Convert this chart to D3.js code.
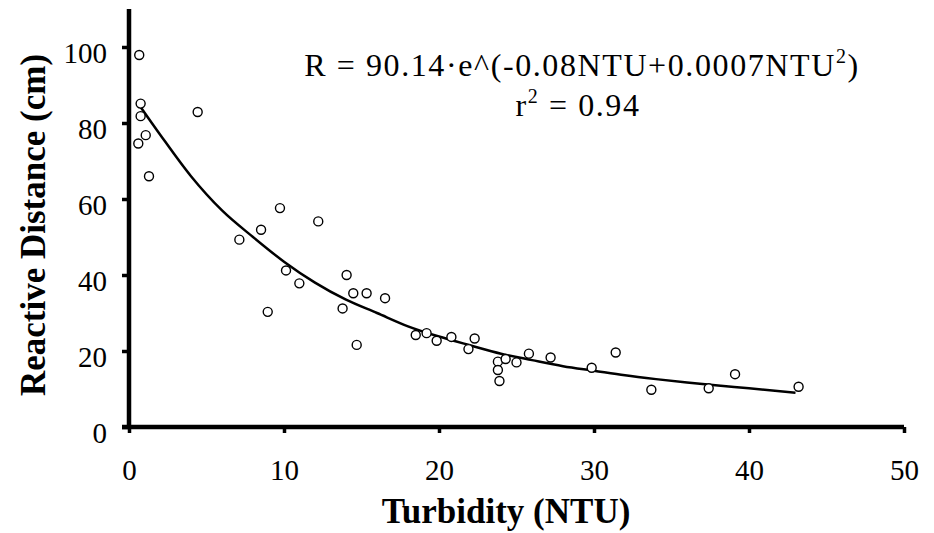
<!DOCTYPE html>
<html>
<head>
<meta charset="utf-8">
<script src="https://cdn.jsdelivr.net/npm/d3@7"></script>
<style>
  body { margin: 0; background: #fff; }
  svg text { font-family: "Liberation Serif", Tinos, "Times New Roman", Times, "DejaVu Serif", serif !important; }
</style>
</head>
<body>
<div id="chart"></div>
<script>
// observed points (turbidity NTU, reactive distance cm)
var turbidity = [0.66, 0.75, 0.75, 1.08, 0.6, 1.29, 4.43, 7.12, 8.52, 8.95, 9.74, 10.13, 10.99, 12.21,
  13.78, 14.04, 14.47, 14.69, 15.33, 16.52, 18.5, 19.2, 19.85, 20.8, 21.9, 22.3, 23.8, 24.3, 23.8,
  23.9, 25.0, 25.8, 27.2, 29.85, 31.4, 33.7, 37.4, 39.1, 43.2];
var distance = [97.9, 85.1, 81.8, 76.8, 74.6, 66.0, 82.9, 49.3, 51.9, 30.3, 57.6, 41.2, 37.8, 54.1,
  31.2, 40.0, 35.2, 21.6, 35.2, 33.9, 24.2, 24.7, 22.7, 23.7, 20.5, 23.3, 17.2, 17.9, 15.0,
  12.1, 17.0, 19.3, 18.3, 15.6, 19.6, 9.8, 10.2, 13.9, 10.6];

// fitted curve
var fitX = [0.7, 2, 4, 6, 8, 10, 12, 14, 16, 18, 20, 22, 24, 26, 28, 30, 32, 34, 36, 38, 40, 43];
var fitY = [84.5, 77, 66, 57, 50, 43.5, 38, 33.5, 30, 26.5, 23.8, 21.5, 19.3, 17.6, 16, 14.8,
  13.6, 12.6, 11.7, 10.9, 10.2, 9.0];

var xTicks = [0, 10, 20, 30, 40, 50];
var yTicks = [0, 20, 40, 60, 80, 100];

var svpWidth = 934;
var svpHeight = 533;

var svg = d3.select('#chart')
  .append('svg')
  .attr('width', svpWidth)
  .attr('height', svpHeight);

var x = d3.scaleLinear().domain([0, 50]).range([129, 904]);
var y = d3.scaleLinear().domain([0, 110]).range([427, 9]);

// x axis
var gx = svg.append('g')
  .attr('transform', 'translate(0,' + y(0) + ')')
  .call(d3.axisBottom(x).tickValues(xTicks).tickSize(6).tickSizeOuter(0));
gx.select('.domain').attr('d', 'M' + (x(0) - 7) + ',0H' + x(50)).attr('stroke-width', 4.5);
gx.selectAll('.tick line').attr('stroke-width', 3.5);
gx.selectAll('.tick text')
  .attr('y', 53).attr('dy', 0)
  .attr('font-size', 29);

// y axis
var gy = svg.append('g')
  .attr('transform', 'translate(' + x(0) + ',0)')
  .call(d3.axisLeft(y).tickValues(yTicks).tickSize(7).tickSizeOuter(0));
gy.select('.domain').attr('d', 'M0,' + y(0) + 'V' + y(110)).attr('stroke-width', 4.5);
gy.selectAll('.tick line').attr('stroke-width', 3.5);
gy.selectAll('.tick text')
  .attr('x', -22).attr('dy', 0).attr('y', 15)
  .attr('font-size', 29);

// axis titles
svg.append('text')
  .attr('x', 506).attr('y', 523)
  .attr('text-anchor', 'middle')
  .attr('font-weight', 'bold').attr('font-size', 35)
  .text('Turbidity (NTU)');
svg.append('text')
  .attr('transform', 'translate(45,225) rotate(-90)')
  .attr('text-anchor', 'middle')
  .attr('font-weight', 'bold').attr('font-size', 35)
  .text('Reactive Distance (cm)');

// fitted curve
var fit = fitX.map(function (d, i) { return [d, fitY[i]]; });
svg.append('path')
  .datum(fit)
  .attr('fill', 'none')
  .attr('stroke', 'black')
  .attr('stroke-width', 2.5)
  .attr('d', d3.line().x(d => x(d[0])).y(d => y(d[1])).curve(d3.curveMonotoneX));

// scatter points
svg.append('g')
  .selectAll('circle')
  .data(turbidity)
  .enter()
  .append('circle')
  .attr('cx', d => x(d))
  .attr('cy', (d, i) => y(distance[i]))
  .attr('r', 4.5)
  .attr('fill', 'white')
  .attr('stroke', 'black')
  .attr('stroke-width', 1.4);

// equation
var eq = svg.append('text')
  .attr('x', 582).attr('y', 76)
  .attr('text-anchor', 'middle')
  .attr('font-size', 32)
  .attr('letter-spacing', 1.6);
eq.append('tspan').text('R = 90.14\u00b7e^(-0.08NTU+0.0007NTU');
eq.append('tspan').attr('font-size', 20).attr('dy', -13).text('2');
eq.append('tspan').attr('dy', 13).text(')');

var r2 = svg.append('text')
  .attr('x', 578).attr('y', 116)
  .attr('text-anchor', 'middle')
  .attr('font-size', 32)
  .attr('letter-spacing', 1.6);
r2.append('tspan').text('r');
r2.append('tspan').attr('font-size', 20).attr('dy', -13).text('2');
r2.append('tspan').attr('dy', 13).text('  = 0.94');
</script>
</body>
</html>
